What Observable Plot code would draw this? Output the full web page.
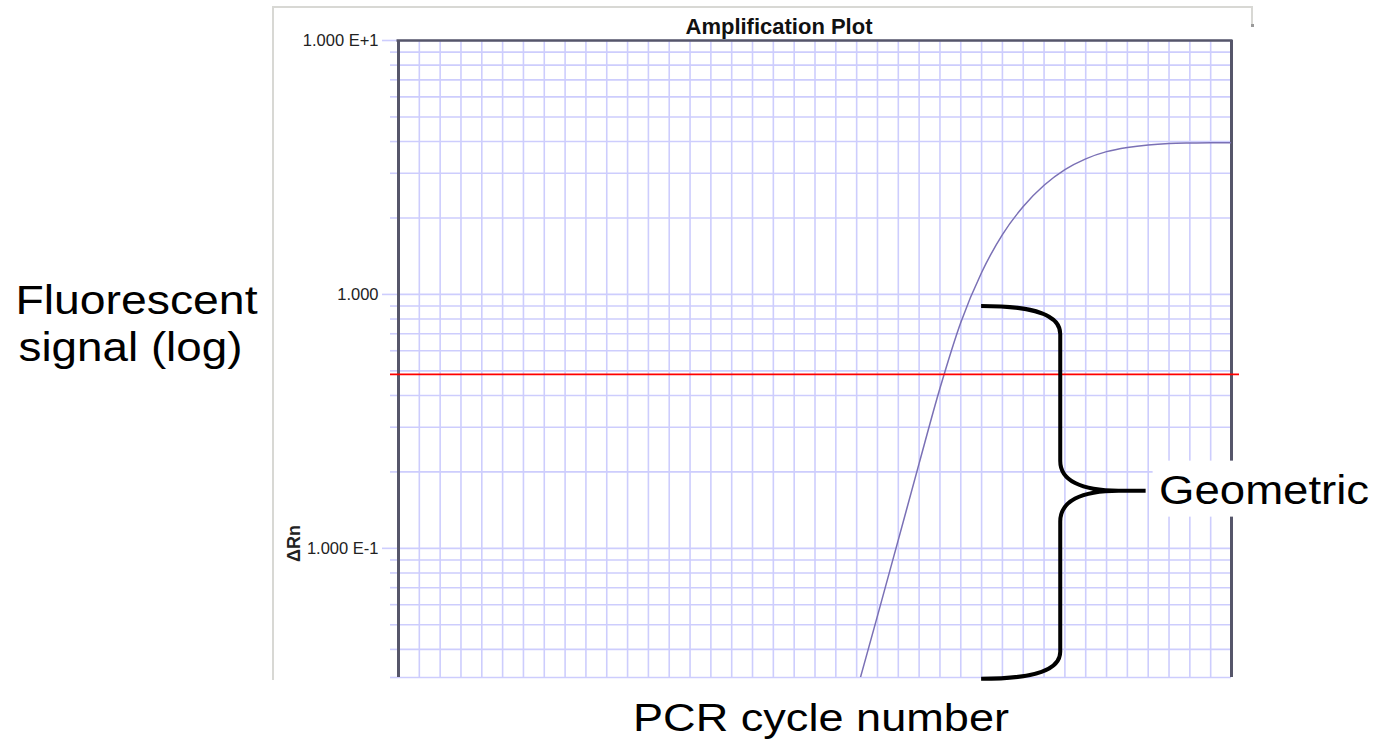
<!DOCTYPE html>
<html>
<head>
<meta charset="utf-8">
<script src="https://cdn.jsdelivr.net/npm/d3@7"></script>
<script src="https://cdn.jsdelivr.net/npm/@observablehq/plot@0.6"></script>
<style>
  html, body { margin: 0; padding: 0; background: #fff; overflow: hidden; }
  #chart svg { display: block; }
</style>
</head>
<body>
<div id="chart"></div>
<script>
// ---- data ----
const cycles  = [20, 21, 22, 23, 24, 25, 26, 27, 28, 29, 30, 31, 32, 33, 34, 35, 36, 37, 38, 39, 40];
const deltaRn = [0.0069, 0.0138, 0.0274, 0.0542, 0.108, 0.216, 0.427, 0.776, 1.22, 1.72, 2.22,
                 2.69, 3.10, 3.42, 3.65, 3.79, 3.88, 3.93, 3.95, 3.96, 3.96];
const threshold = 0.484;
const xDomain = [0, 40];
const yDomain = [0.031, 10];
const yMajorTicks  = [10, 1, 0.1];
const yMajorLabels = ["1.000 E+1", "1.000", "1.000 E-1"];
// brace annotation (x: end, spine, tip, stub end) and (y: top, upper bend, upper spine end, tip, lower spine start, lower bend, bottom)
const braceX = [28.0, 31.8, 34.6, 35.9];
const braceY = [0.897, 0.696, 0.220, 0.168, 0.127, 0.039, 0.0305];
// texts
const titleText = "Amplification Plot";
const yTitleLines = ["Fluorescent", "signal (log)"];
const xTitleText = "PCR cycle number";
const yAxisName = "ΔRn";
const phaseLabel = "Geometric";

// ---- styles ----
const gridColor = "#cdcdfd";
const frameColor = "#56566a";
const curveColor = "#7a70b5";
const font = "'Liberation Sans', Arial, Helvetica, sans-serif";
const textWidths = new Map([["Fluorescent", 242], ["signal (log)", 224], ["PCR cycle number", 376], ["Geometric", 210]]);

const data = cycles.map((c, i) => ({cycle: c, rn: deltaRn[i]}));
const isMajor = t => yMajorTicks.some(m => Math.abs(m - t) / m < 1e-9);
const minorTicks = d3.scaleLog().domain(yDomain).ticks().filter(t => !isMajor(t)).concat([yDomain[0]]);

// outer light window frame
const chromeMark = (index, scales, values, dims) => {
  const g = d3.create("svg:g");
  const left = dims.marginLeft - 125, top = dims.marginTop - 33;
  const right = dims.width - dims.marginRight + 21;
  const bottom = dims.height - dims.marginBottom + 3;
  g.append("path")
    .attr("d", `M${left},${bottom}V${top}H${right}V${top + 18}`)
    .attr("fill", "none").attr("stroke", "#d8d8d4").attr("stroke-width", 2);
  g.append("rect").attr("x", right - 1).attr("y", top + 17).attr("width", 3).attr("height", 3).attr("fill", "#9a9a9a");
  return g.node();
};

// curly brace + white background for label
const braceMark = (index, scales, values, dims) => {
  const g = d3.create("svg:g");
  const [xe, xs, xt, xb] = braceX.map(v => scales.x(v));
  const [yTop, yB1, yB2, yTip, yB3, yB4, yBot] = braceY.map(v => scales.y(v));
  g.append("rect")
    .attr("x", xb + 7).attr("y", yTip - 30)
    .attr("width", dims.width - xb - 7).attr("height", 56)
    .attr("fill", "white");
  const p = d3.path();
  p.moveTo(xe, yTop);
  p.bezierCurveTo(xe + 0.7 * (xs - xe), yTop, xs, yTop + 0.35 * (yB1 - yTop), xs, yB1);
  p.lineTo(xs, yB2);
  p.bezierCurveTo(xs, yB2 + 0.65 * (yTip - yB2), xs + 0.35 * (xt - xs), yTip, xt, yTip);
  p.bezierCurveTo(xs + 0.35 * (xt - xs), yTip, xs, yB3 - 0.65 * (yB3 - yTip), xs, yB3);
  p.lineTo(xs, yB4);
  p.bezierCurveTo(xs, yB4 + 0.65 * (yBot - yB4), xe + 0.7 * (xs - xe), yBot, xe, yBot);
  p.moveTo(xt, yTip);
  p.lineTo(xb, yTip);
  g.append("path").attr("d", p.toString())
    .attr("fill", "none").attr("stroke", "#000").attr("stroke-width", 4)
    .attr("stroke-linejoin", "round");
  return g.node();
};

const chart = Plot.plot({
  width: 1373,
  height: 740,
  marginLeft: 398,
  marginRight: 142,
  marginTop: 40,
  marginBottom: 63,
  style: {fontFamily: font, background: "white", overflow: "visible"},
  x: {domain: xDomain, axis: null},
  y: {type: "log", domain: yDomain, axis: null},
  marks: [
    chromeMark,
    Plot.gridX({ticks: 40, stroke: gridColor, strokeOpacity: 1, strokeWidth: 1.6}),
    Plot.gridY({ticks: minorTicks.concat(yMajorTicks), stroke: gridColor, strokeOpacity: 1, strokeWidth: 1.6}),
    Plot.axisY({ticks: minorTicks, tickSize: 8, tickFormat: () => "", stroke: gridColor, strokeWidth: 1.6, label: null}),
    Plot.axisY({
      ticks: yMajorTicks, tickSize: 16, tickPadding: 4,
      tickFormat: d => yMajorLabels[yMajorTicks.findIndex(m => Math.abs(m - d) / m < 1e-9)],
      stroke: gridColor, strokeWidth: 1.6, fill: "#222", fontSize: 16.5, label: null
    }),
    Plot.ruleX(xDomain, {stroke: frameColor, strokeWidth: 3}),
    Plot.ruleY([yDomain[1]], {stroke: frameColor, strokeWidth: 2.5, insetLeft: -1.5, insetRight: -1.5}),
    Plot.line(data, {x: "cycle", y: "rn", stroke: curveColor, strokeWidth: 1.5, curve: "monotone-x", clip: true}),
    Plot.ruleY([threshold], {stroke: "#ff0000", strokeWidth: 1.8, insetLeft: -8, insetRight: -8}),
    braceMark,
    Plot.text([phaseLabel], {x: braceX[3], y: braceY[3], dx: 13, textAnchor: "start", lineAnchor: "middle", fontSize: 40, fill: "#000"}),
    Plot.text([titleText], {frameAnchor: "top", dx: -36, dy: -7, lineAnchor: "bottom", fontSize: 22, fontWeight: "bold", fill: "#111"}),
    Plot.text([yTitleLines[0]], {frameAnchor: "top-left", dx: -383, dy: 273, textAnchor: "start", lineAnchor: "bottom", fontSize: 40, fill: "#000"}),
    Plot.text([yTitleLines[1]], {frameAnchor: "top-left", dx: -380, dy: 320, textAnchor: "start", lineAnchor: "bottom", fontSize: 40, fill: "#000"}),
    Plot.text([xTitleText], {frameAnchor: "bottom", dx: 6, dy: 53, textAnchor: "middle", lineAnchor: "bottom", fontSize: 39, fill: "#000"}),
    Plot.text([yAxisName], {frameAnchor: "top-left", dx: -104, dy: 503, rotate: -90, textAnchor: "middle", lineAnchor: "middle", fontSize: 18, fontWeight: "bold", fill: "#222"})
  ]
});

d3.select(chart).selectAll("text").each(function() {
  const w = textWidths.get(this.textContent);
  if (w) {
    this.setAttribute("textLength", w);
    this.setAttribute("lengthAdjust", "spacingAndGlyphs");
  }
});

document.getElementById("chart").appendChild(chart);
</script>
</body>
</html>
